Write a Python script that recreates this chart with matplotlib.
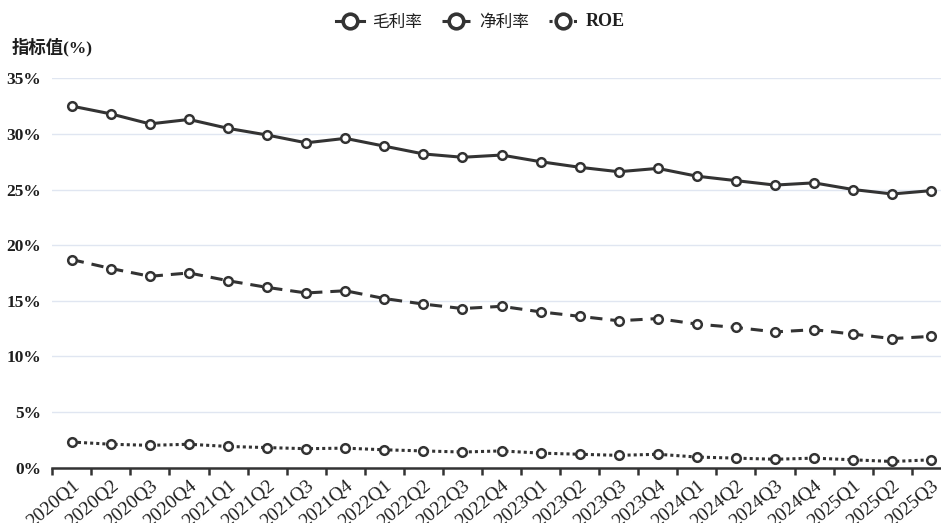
import numpy as np
import matplotlib.pyplot as plt
from matplotlib.ticker import FixedLocator

plt.rcParams['font.family'] = ['Liberation Serif', 'Noto Sans CJK SC']

quarters = ['2020Q1', '2020Q2', '2020Q3', '2020Q4',
            '2021Q1', '2021Q2', '2021Q3', '2021Q4',
            '2022Q1', '2022Q2', '2022Q3', '2022Q4',
            '2023Q1', '2023Q2', '2023Q3', '2023Q4',
            '2024Q1', '2024Q2', '2024Q3', '2024Q4',
            '2025Q1', '2025Q2', '2025Q3']

gross_margin = [32.5, 31.8, 30.9, 31.3, 30.5, 29.9, 29.2, 29.6, 28.9, 28.2, 27.9, 28.1,
                27.5, 27.0, 26.6, 26.9, 26.2, 25.8, 25.4, 25.6, 25.0, 24.6, 24.9]
net_margin = [18.7, 17.9, 17.2, 17.5, 16.8, 16.2, 15.7, 15.9, 15.2, 14.7, 14.3, 14.5,
              14.0, 13.6, 13.2, 13.4, 12.9, 12.6, 12.2, 12.4, 12.0, 11.6, 11.8]
roe = [2.3, 2.1, 2.0, 2.1, 1.9, 1.8, 1.7, 1.75, 1.6, 1.5, 1.4, 1.5,
       1.3, 1.2, 1.1, 1.2, 0.95, 0.85, 0.75, 0.85, 0.7, 0.55, 0.7]

series = [('毛利率', gross_margin, '-'),
          ('净利率', net_margin, (0, (4, 2.6))),
          ('ROE', roe, (0, (1, 1)))]

line_color = '#333333'
grid_color = '#e0e6f1'
text_color = '#1e1e1e'

fig = plt.figure(figsize=(9.41, 5.23), dpi=100)
W, H = 941, 523
# plot area runs a little past the right edge of the canvas
left, right = 52.3, 950.8
bottom, top = 467.6, 78.3
ax = fig.add_axes([left / W, 1 - bottom / H, (right - left) / W, (bottom - top) / H])

x = np.arange(len(quarters)) + 0.5
for name, vals, ls in series:
    ax.plot(x, vals, linestyle=ls, color=line_color, lw=2.2,
            marker='o', markersize=6.2, markerfacecolor='white',
            markeredgecolor=line_color, markeredgewidth=1.8,
            label=name, zorder=3)

ax.set_xlim(0, len(quarters))
ax.set_ylim(0, 35)
ax.set_yticks(np.arange(0, 36, 5))
ax.set_yticklabels([f'{v}%' for v in range(0, 36, 5)], fontsize=12.5,
                   fontweight='bold', color=text_color)
ax.yaxis.grid(True, color=grid_color, lw=1)
ax.set_axisbelow(True)
ax.tick_params(axis='y', length=0, pad=8)

# ticks on category boundaries, labels in the middle of each category
ax.xaxis.set_major_locator(FixedLocator(np.arange(len(quarters) + 1)))
ax.xaxis.set_major_formatter(plt.NullFormatter())
ax.xaxis.set_minor_locator(FixedLocator(x))
ax.set_xticklabels(quarters, minor=True, rotation=40, ha='right',
                   rotation_mode='anchor', fontsize=14, color=text_color)
ax.tick_params(axis='x', which='major', length=5, width=1.8, color=line_color)
ax.tick_params(axis='x', which='minor', length=0, pad=7)

for side in ['top', 'right', 'left']:
    ax.spines[side].set_visible(False)
ax.spines['bottom'].set_color(line_color)
ax.spines['bottom'].set_linewidth(1.8)

fig.text(12 / W, 1 - 47 / H, '指标值(%)', fontsize=12.5, fontweight='bold',
         ha='left', va='center', color=text_color)

leg = fig.legend(loc='center', bbox_to_anchor=(480 / W, 1 - 22 / H), ncol=3,
                 frameon=False, fontsize=12, handlelength=1.7, handletextpad=0.5,
                 columnspacing=1.2, markerscale=1.7)
for t in leg.get_texts():
    t.set_color(text_color)
leg.get_texts()[2].set_fontweight('bold')
leg.get_texts()[2].set_fontsize(13)
for h in leg.legend_handles:
    h.set_markeredgewidth(2.6)

fig.savefig('out.png', dpi=100)
